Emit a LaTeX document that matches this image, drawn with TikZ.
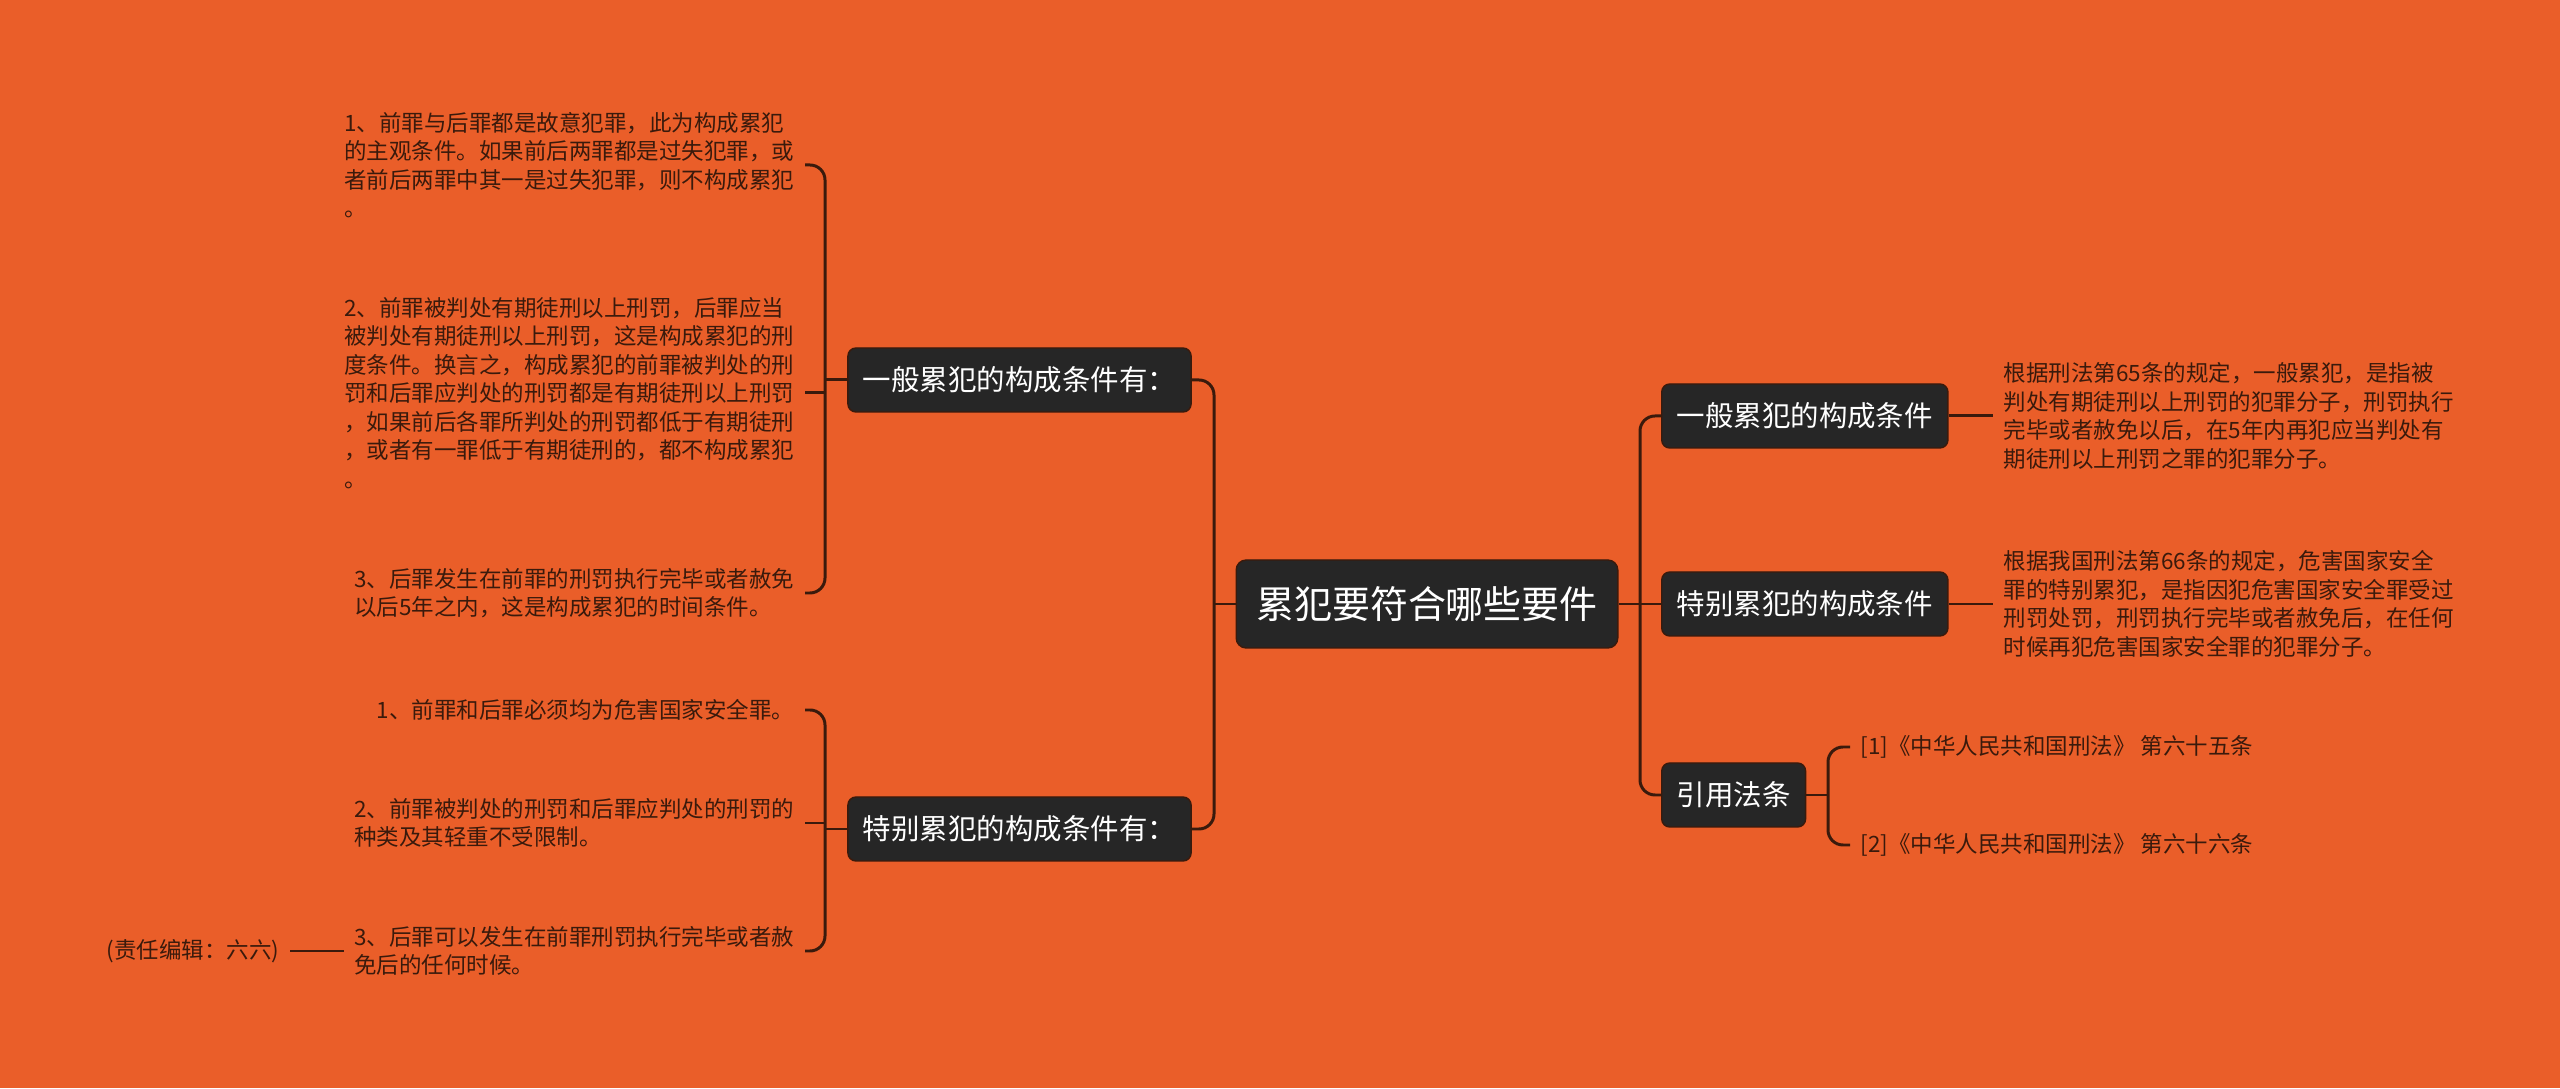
\documentclass[tikz,border=0pt]{standalone}
\usepackage{fontspec}
\setmainfont{Noto Sans CJK SC}
\usetikzlibrary{calc,positioning}
\definecolor{bg}{HTML}{EA5E29}
\definecolor{box}{HTML}{262626}
\definecolor{ink}{HTML}{3A1A0C}
\tikzset{
  topic/.style={fill=box,draw=ink,line width=0.4pt,rounded corners=0.1cm,text=white,font=\fontsize{10.8}{13}\selectfont,minimum height=0.88cm,inner xsep=0.2cm},
  branch/.style={fill=box,draw=ink,line width=0.4pt,rounded corners=0.08cm,text=white,font=\fontsize{8.1}{10}\selectfont,minimum height=0.64cm,inner xsep=0.15cm},
  leaf/.style={text=ink,align=left,font=\fontsize{6.4}{8.1}\selectfont,inner xsep=0.1cm},
  link/.style={draw=ink,line width=0.85pt,rounded corners=0.15cm}
}

\begin{document}
\begin{tikzpicture}
\fill[bg] (0,0) rectangle (25.6,10.88);
\useasboundingbox (0,0) rectangle (25.6,10.88);

\node[topic] (root) at (14.27,4.84) {累犯要符合哪些要件};

\node[branch] (lb1) at (10.195,7.08) {一般累犯的构成条件有：};
\node[branch] (lb2) at (10.195,2.59) {特别累犯的构成条件有：};
\node[branch,anchor=west] (rb1) at (16.61,6.72) {一般累犯的构成条件};
\node[branch,anchor=west] (rb2) at (16.61,4.84) {特别累犯的构成条件};
\node[branch,anchor=west] (rb3) at (16.61,2.93) {引用法条};

\node[leaf,anchor=east] (g1a) at (8.05,9.23) {1、前罪与后罪都是故意犯罪，此为构成累犯\\的主观条件。如果前后两罪都是过失犯罪，或\\者前后两罪中其一是过失犯罪，则不构成累犯\\。};
\node[leaf,anchor=east] (g1b) at (8.05,6.95) {2、前罪被判处有期徒刑以上刑罚，后罪应当\\被判处有期徒刑以上刑罚，这是构成累犯的刑\\度条件。换言之，构成累犯的前罪被判处的刑\\罚和后罪应判处的刑罚都是有期徒刑以上刑罚\\，如果前后各罪所判处的刑罚都低于有期徒刑\\，或者有一罪低于有期徒刑的，都不构成累犯\\。};
\node[leaf,anchor=east] (g1c) at (8.05,4.95) {3、后罪发生在前罪的刑罚执行完毕或者赦免\\以后5年之内，这是构成累犯的时间条件。};

\node[leaf,anchor=east] (g2a) at (8.05,3.78) {1、前罪和后罪必须均为危害国家安全罪。};
\node[leaf,anchor=east] (g2b) at (8.05,2.65) {2、前罪被判处的刑罚和后罪应判处的刑罚的\\种类及其轻重不受限制。};
\node[leaf,anchor=east] (g2c) at (8.05,1.37) {3、后罪可以发生在前罪刑罚执行完毕或者赦\\免后的任何时候。};
\node[leaf,anchor=east] (ed) at (2.90,1.37) {(责任编辑：六六)};

\node[leaf,anchor=west] (rt1) at (19.93,6.72) {根据刑法第65条的规定，一般累犯，是指被\\判处有期徒刑以上刑罚的犯罪分子，刑罚执行\\完毕或者赦免以后，在5年内再犯应当判处有\\期徒刑以上刑罚之罪的犯罪分子。};
\node[leaf,anchor=west] (rt2) at (19.93,4.84) {根据我国刑法第66条的规定，危害国家安全\\罪的特别累犯，是指因犯危害国家安全罪受过\\刑罚处罚，刑罚执行完毕或者赦免后，在任何\\时候再犯危害国家安全罪的犯罪分子。};
\node[leaf,anchor=west] (c1) at (18.50,3.41) {[1]《中华人民共和国刑法》 第六十五条};
\node[leaf,anchor=west] (c2) at (18.50,2.43) {[2]《中华人民共和国刑法》 第六十六条};

\coordinate (lj) at (12.14,4.84);
\draw[link] (lb1.east) -| (lj) |- (lb2.east);
\draw[link] (root.west) -- (lj);
\coordinate (rj) at (16.40,4.84);
\draw[link] (rb1.west) -| (rj) |- (rb3.west);
\draw[link] (root.east) -- (rb2.west);

\coordinate (j1) at (8.25,7.08);
\draw[link] (g1a.east) -| (j1) |- (g1c.east);
\draw[link] (lb1.west) -- (j1);
\draw[link] (g1b.east) -- (g1b.east -| j1);
\coordinate (j2) at (8.25,2.59);
\draw[link] (g2a.east) -| (j2) |- (g2c.east);
\draw[link] (lb2.west) -- (j2);
\draw[link] (g2b.east) -- (g2b.east -| j2);
\draw[link] (ed.east) -- (g2c.west);

\draw[link] (rb1.east) -- (rt1.west);
\draw[link] (rb2.east) -- (rt2.west);
\coordinate (cj) at (18.28,2.93);
\draw[link] (c1.west) -| (cj) |- (c2.west);
\draw[link] (rb3.east) -- (cj);
\end{tikzpicture}
\end{document}
